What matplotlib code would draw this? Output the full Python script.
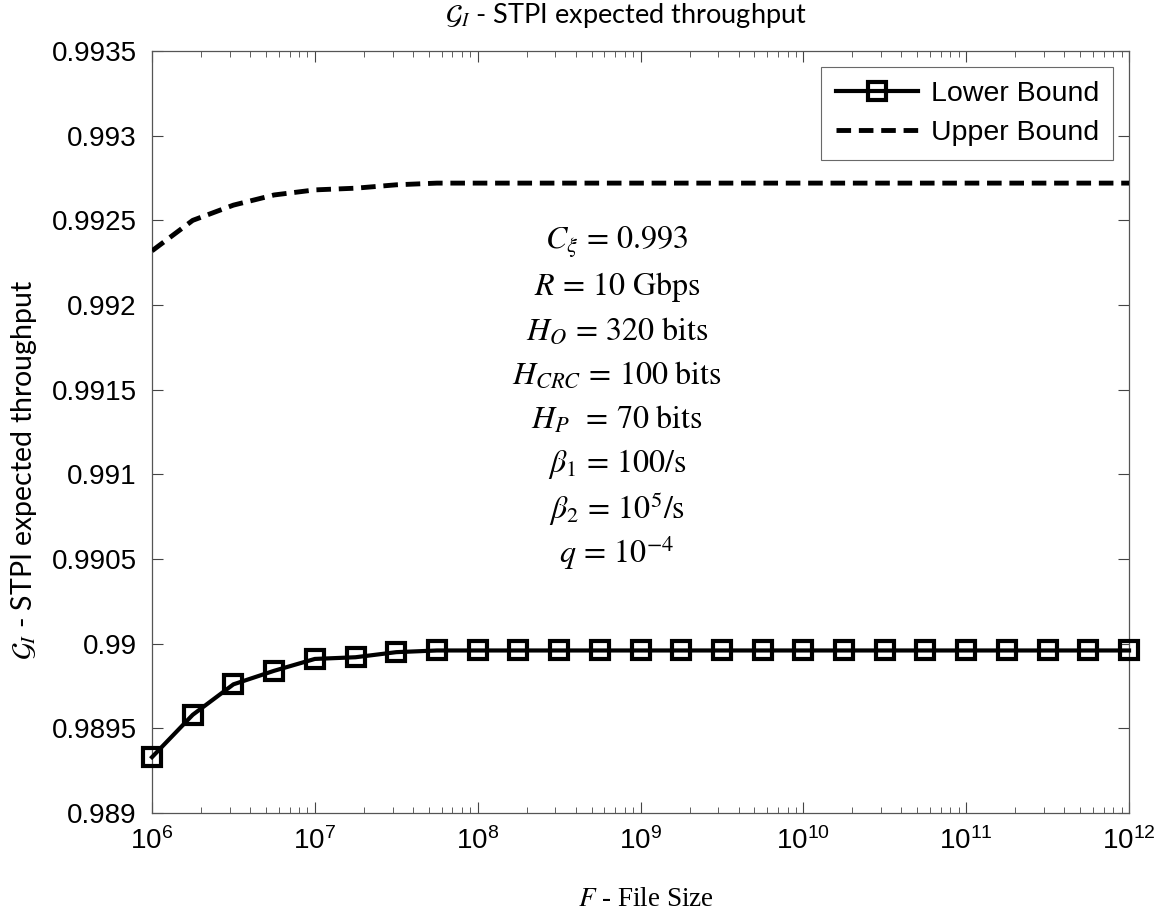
import numpy as np
import matplotlib
matplotlib.use("Agg")
import matplotlib.pyplot as plt
from matplotlib.ticker import LogLocator, FixedLocator

# Data
file_size_exp = [6.0, 6.25, 6.5, 6.75, 7.0, 7.25, 7.5, 7.75, 8.0, 8.25, 8.5, 8.75,
                 9.0, 9.25, 9.5, 9.75, 10.0, 10.25, 10.5, 10.75, 11.0, 11.25, 11.5, 11.75, 12.0]
lower_bound = [0.98933, 0.98958, 0.98976, 0.98984, 0.98991, 0.98992, 0.98995] + [0.98996] * 18
upper_bound = [0.99232, 0.99250, 0.99259, 0.99265, 0.99268, 0.99269, 0.99271] + [0.99272] * 18
y_ticks = [0.989, 0.9895, 0.99, 0.9905, 0.991, 0.9915, 0.992, 0.9925, 0.993, 0.9935]
y_tick_labels = ["0.989", "0.9895", "0.99", "0.9905", "0.991", "0.9915", "0.992", "0.9925", "0.993", "0.9935"]
param_lines = [
    r"$C_{\xi}\,=\,0.993$",
    r"$R\,=\,10\ \mathrm{Gbps}$",
    r"$H_{O}\,=\,320\ \mathrm{bits}$",
    r"$H_{CRC}\,=\,100\ \mathrm{bits}$",
    r"$H_{P}\ \,=\,70\ \mathrm{bits}$",
    r"$\beta_{1}\,=\,100/\mathrm{s}$",
    r"$\beta_{2}\,=\,10^{5}/\mathrm{s}$",
    r"$q\,=\,10^{-4}$",
]

plt.rcParams['mathtext.fontset'] = 'stix'
plt.rcParams['font.family'] = ['Liberation Sans', 'DejaVu Sans']

x = 10.0 ** np.array(file_size_exp)

fig = plt.figure(figsize=(11.63, 9.13), dpi=100)
ax = fig.add_axes([0.1307, 0.1095, 0.9708 - 0.1307, 0.9441 - 0.1095])

ax.plot(x, lower_bound, color='black', linewidth=3, marker='s', markersize=13,
        markerfacecolor='none', markeredgecolor='black', markeredgewidth=3,
        label='Lower Bound', clip_on=False, zorder=3)
ax.plot(x, upper_bound, color='black', linewidth=3.5, linestyle=(0, (3, 1.6)),
        label='Upper Bound', zorder=3)

ax.set_xscale('log')
ax.set_xlim(1e6, 1e12)
ax.set_ylim(0.989, 0.9935)
ax.yaxis.set_major_locator(FixedLocator(y_ticks))
ax.set_yticklabels(y_tick_labels)
ax.xaxis.set_major_locator(LogLocator(base=10, numticks=20))
ax.xaxis.set_minor_locator(LogLocator(base=10, subs=np.arange(2, 10), numticks=100))

ax.tick_params(axis='both', which='both', direction='in', top=True, right=True,
               color='#444444', labelsize=20)
ax.tick_params(axis='both', which='major', length=8, width=0.8)
ax.tick_params(axis='y', which='major', pad=11)
ax.tick_params(axis='x', which='major', pad=10)
ax.tick_params(axis='x', which='minor', length=4, width=0.6)
for sp in ax.spines.values():
    sp.set_color('#555555')
    sp.set_linewidth(0.9)

fig.text(626 / 1163, 1 - 16 / 913, r"$\mathcal{G}_{I}$ - STPI expected throughput",
         fontsize=19.5, family=['Lato', 'DejaVu Sans'], ha='center', va='center')
ax.set_ylabel(r"$\mathcal{G}_{I}$ - STPI expected throughput", fontsize=20.5,
              family=['Lato', 'DejaVu Sans'])
ax.yaxis.set_label_coords(-0.131, 0.45)
ax.yaxis.label.set_va('center')
ax.set_xlabel(r"$F$ - File Size", fontsize=19.5, family=['Liberation Serif', 'DejaVu Serif'])
ax.xaxis.set_label_coords(0.506, -0.114)
ax.xaxis.label.set_va('center')

leg = ax.legend(loc='upper right', fontsize=20.5, frameon=True, fancybox=False,
                edgecolor='#444444', handlelength=2.9, borderaxespad=0.55,
                borderpad=0.5, labelspacing=0.45, handletextpad=0.45)
leg.get_frame().set_linewidth(0.8)

y0 = 0.748
dy = 0.0581
for i, s in enumerate(param_lines):
    ax.text(0.476, y0 - i * dy, s, transform=ax.transAxes, ha='center', va='center',
            fontsize=23)

fig.savefig("out.png", dpi=100)
